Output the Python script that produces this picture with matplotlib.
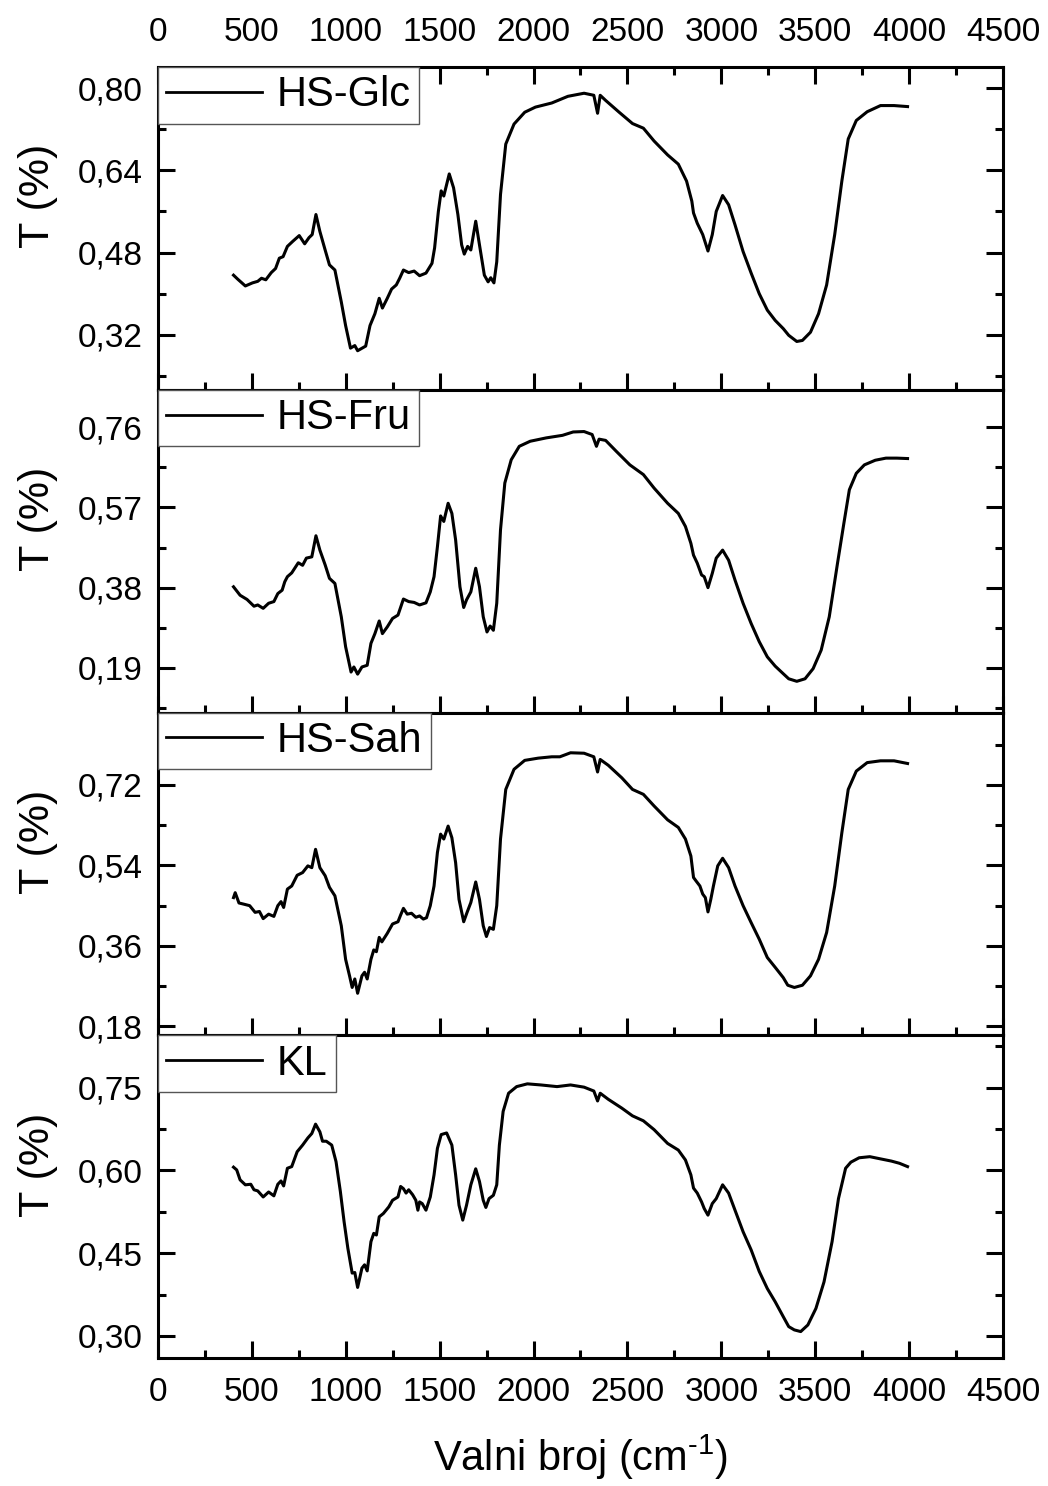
import matplotlib
matplotlib.use('Agg')
import matplotlib.pyplot as plt
from matplotlib.ticker import MultipleLocator, FuncFormatter

plt.rcParams['font.family'] = ['Liberation Sans', 'DejaVu Sans']
plt.rcParams['mathtext.default'] = 'regular'

# wavenumber (cm-1) / transmittance
glc_x = [402, 425, 465, 503, 531, 551, 574, 603, 626, 646, 666, 689, 718, 752, 781, 804, 821, 841,
         862, 890, 913, 942, 976, 999, 1025, 1048, 1063, 1106, 1129, 1155, 1178, 1195, 1221, 1244,
         1269, 1287, 1307, 1335, 1364, 1393, 1427, 1459, 1473, 1493, 1508, 1522, 1551, 1574, 1597,
         1617, 1631, 1649, 1666, 1692, 1712, 1738, 1758, 1772, 1789, 1804, 1824, 1852, 1896, 1953,
         2010, 2097, 2183, 2269, 2321, 2341, 2355, 2384, 2456, 2527, 2585, 2642, 2714, 2771, 2815,
         2843, 2852, 2872, 2901, 2929, 2952, 2973, 3007, 3039, 3073, 3116, 3159, 3202, 3245, 3287,
         3330, 3359, 3402, 3432, 3475, 3518, 3561, 3604, 3642, 3676, 3719, 3777, 3848, 3920, 3992]
glc_y = [0.436, 0.428, 0.415, 0.421, 0.424, 0.430, 0.427, 0.441, 0.449, 0.469, 0.472, 0.492, 0.502,
         0.513, 0.497, 0.509, 0.515, 0.554, 0.521, 0.485, 0.456, 0.446, 0.384, 0.338, 0.294, 0.299,
         0.289, 0.298, 0.338, 0.361, 0.391, 0.372, 0.391, 0.409, 0.417, 0.430, 0.446, 0.441, 0.444,
         0.435, 0.440, 0.459, 0.489, 0.560, 0.600, 0.590, 0.633, 0.606, 0.554, 0.495, 0.477, 0.492,
         0.485, 0.541, 0.495, 0.436, 0.423, 0.431, 0.421, 0.462, 0.593, 0.691, 0.730, 0.753, 0.763,
         0.771, 0.784, 0.790, 0.786, 0.751, 0.786, 0.776, 0.753, 0.731, 0.722, 0.697, 0.670, 0.652,
         0.619, 0.580, 0.557, 0.537, 0.515, 0.483, 0.515, 0.560, 0.591, 0.573, 0.534, 0.482, 0.440,
         0.400, 0.368, 0.348, 0.332, 0.319, 0.307, 0.309, 0.325, 0.361, 0.417, 0.515, 0.619, 0.701,
         0.737, 0.754, 0.766, 0.766, 0.764]

fru_x = [402, 416, 437, 474, 511, 531, 560, 589, 617, 638, 661, 675, 689, 712, 747, 770, 790, 819,
         841, 862, 890, 913, 942, 976, 999, 1028, 1043, 1063, 1086, 1114, 1134, 1155, 1178, 1195,
         1221, 1249, 1278, 1307, 1335, 1364, 1393, 1427, 1450, 1470, 1488, 1505, 1522, 1545, 1565,
         1585, 1608, 1628, 1643, 1666, 1692, 1712, 1732, 1752, 1769, 1786, 1804, 1824, 1847, 1881,
         1924, 1982, 2068, 2154, 2211, 2269, 2312, 2335, 2349, 2384, 2441, 2513, 2585, 2642, 2714,
         2771, 2809, 2838, 2852, 2872, 2895, 2909, 2929, 2952, 2973, 3007, 3039, 3073, 3116, 3159,
         3202, 3245, 3287, 3330, 3359, 3402, 3446, 3489, 3532, 3575, 3619, 3653, 3682, 3719, 3762,
         3820, 3877, 3935, 3992]
fru_y = [0.382, 0.374, 0.362, 0.352, 0.336, 0.339, 0.331, 0.343, 0.347, 0.366, 0.374, 0.394, 0.406,
         0.415, 0.439, 0.433, 0.450, 0.453, 0.503, 0.469, 0.434, 0.402, 0.390, 0.311, 0.240, 0.180,
         0.192, 0.175, 0.192, 0.196, 0.248, 0.271, 0.301, 0.271, 0.287, 0.307, 0.315, 0.353, 0.347,
         0.345, 0.339, 0.344, 0.370, 0.406, 0.477, 0.550, 0.537, 0.580, 0.556, 0.493, 0.382, 0.333,
         0.351, 0.370, 0.426, 0.382, 0.311, 0.275, 0.289, 0.279, 0.343, 0.517, 0.628, 0.683, 0.715,
         0.727, 0.735, 0.741, 0.749, 0.750, 0.743, 0.715, 0.732, 0.729, 0.703, 0.671, 0.648, 0.616,
         0.580, 0.556, 0.525, 0.485, 0.457, 0.438, 0.410, 0.406, 0.380, 0.414, 0.450, 0.469, 0.445,
         0.398, 0.343, 0.295, 0.252, 0.216, 0.194, 0.176, 0.164, 0.158, 0.164, 0.188, 0.232, 0.311,
         0.438, 0.533, 0.612, 0.651, 0.671, 0.682, 0.687, 0.687, 0.686]

sah_x = [402, 411, 431, 460, 488, 517, 540, 560, 589, 617, 638, 655, 669, 689, 712, 741, 770, 798,
         819, 839, 862, 890, 913, 942, 976, 999, 1020, 1034, 1048, 1063, 1086, 1100, 1114, 1134,
         1149, 1163, 1178, 1192, 1221, 1249, 1278, 1292, 1307, 1327, 1350, 1373, 1393, 1413, 1430,
         1450, 1470, 1488, 1505, 1522, 1545, 1565, 1585, 1603, 1628, 1646, 1666, 1692, 1712, 1732,
         1749, 1766, 1786, 1804, 1824, 1852, 1896, 1953, 2025, 2097, 2140, 2197, 2269, 2321, 2341,
         2355, 2398, 2470, 2527, 2585, 2642, 2714, 2771, 2809, 2838, 2852, 2866, 2886, 2901, 2915,
         2929, 2944, 2958, 2981, 3007, 3039, 3073, 3116, 3159, 3202, 3245, 3287, 3330, 3354, 3389,
         3432, 3475, 3518, 3561, 3604, 3642, 3676, 3719, 3777, 3848, 3920, 3992]
sah_y = [0.468, 0.479, 0.456, 0.453, 0.450, 0.435, 0.437, 0.421, 0.431, 0.426, 0.450, 0.459, 0.446,
         0.487, 0.494, 0.518, 0.524, 0.539, 0.535, 0.576, 0.535, 0.517, 0.491, 0.472, 0.405, 0.330,
         0.293, 0.267, 0.286, 0.254, 0.293, 0.301, 0.286, 0.330, 0.351, 0.347, 0.379, 0.369, 0.388,
         0.409, 0.414, 0.429, 0.444, 0.431, 0.433, 0.424, 0.427, 0.420, 0.423, 0.450, 0.494, 0.569,
         0.610, 0.599, 0.628, 0.602, 0.546, 0.464, 0.414, 0.435, 0.457, 0.503, 0.464, 0.405, 0.381,
         0.401, 0.397, 0.450, 0.599, 0.710, 0.755, 0.775, 0.780, 0.783, 0.783, 0.792, 0.791, 0.783,
         0.749, 0.777, 0.764, 0.736, 0.710, 0.699, 0.673, 0.642, 0.625, 0.599, 0.561, 0.513, 0.505,
         0.494, 0.476, 0.468, 0.436, 0.464, 0.494, 0.539, 0.556, 0.535, 0.494, 0.450, 0.412, 0.375,
         0.334, 0.312, 0.289, 0.272, 0.267, 0.272, 0.293, 0.330, 0.390, 0.494, 0.613, 0.710, 0.751,
         0.770, 0.774, 0.774, 0.768]

kl_x = [402, 419, 437, 465, 494, 511, 531, 560, 589, 617, 638, 655, 669, 689, 712, 741, 770, 798,
        819, 839, 862, 876, 896, 925, 948, 971, 991, 1011, 1034, 1048, 1063, 1086, 1100, 1114, 1134,
        1149, 1163, 1178, 1200, 1229, 1249, 1278, 1292, 1307, 1321, 1335, 1356, 1373, 1384, 1393,
        1407, 1427, 1450, 1470, 1488, 1508, 1537, 1565, 1585, 1603, 1623, 1643, 1666, 1692, 1712,
        1732, 1746, 1763, 1786, 1804, 1818, 1838, 1867, 1910, 1967, 2039, 2125, 2197, 2269, 2321,
        2341, 2355, 2398, 2470, 2527, 2585, 2642, 2714, 2771, 2809, 2838, 2852, 2872, 2895, 2909,
        2929, 2952, 2973, 3007, 3039, 3073, 3116, 3159, 3202, 3245, 3287, 3330, 3359, 3389, 3423,
        3461, 3504, 3547, 3590, 3624, 3662, 3690, 3734, 3791, 3848, 3906, 3949, 3992]
kl_y = [0.606, 0.601, 0.583, 0.574, 0.575, 0.565, 0.563, 0.552, 0.561, 0.554, 0.575, 0.581, 0.572,
        0.604, 0.607, 0.634, 0.646, 0.659, 0.667, 0.684, 0.670, 0.653, 0.653, 0.646, 0.616, 0.562,
        0.507, 0.459, 0.414, 0.415, 0.388, 0.423, 0.429, 0.418, 0.471, 0.486, 0.483, 0.516, 0.522,
        0.534, 0.546, 0.552, 0.571, 0.567, 0.559, 0.565, 0.556, 0.546, 0.528, 0.543, 0.540, 0.528,
        0.552, 0.592, 0.640, 0.665, 0.668, 0.646, 0.592, 0.537, 0.510, 0.537, 0.574, 0.603, 0.580,
        0.546, 0.533, 0.549, 0.555, 0.574, 0.646, 0.707, 0.740, 0.752, 0.757, 0.755, 0.752, 0.755,
        0.751, 0.744, 0.726, 0.740, 0.729, 0.713, 0.699, 0.690, 0.674, 0.649, 0.637, 0.619, 0.592,
        0.568, 0.559, 0.543, 0.531, 0.519, 0.540, 0.549, 0.574, 0.559, 0.528, 0.489, 0.456, 0.417,
        0.386, 0.362, 0.335, 0.317, 0.311, 0.308, 0.320, 0.350, 0.398, 0.471, 0.549, 0.604, 0.615,
        0.623, 0.625, 0.621, 0.617, 0.613, 0.607]

names = ['HS-Glc', 'HS-Fru', 'HS-Sah', 'KL']
xs = [glc_x, fru_x, sah_x, kl_x]
ys = [glc_y, fru_y, sah_y, kl_y]
ylims = [(0.213, 0.841), (0.084, 0.849), (0.160, 0.882), (0.260, 0.845)]
ysteps = [0.16, 0.19, 0.18, 0.15]

fig, axes = plt.subplots(4, 1, figsize=(10.48, 14.86), dpi=100, sharex=True)
fig.subplots_adjust(left=0.1508, right=0.957, top=0.9549, bottom=0.0861, hspace=0)

comma = FuncFormatter(lambda v, p: ('%.2f' % v).replace('.', ','))

for i, ax in enumerate(axes):
    ax.plot(xs[i], ys[i], color='black', lw=2.2, label=names[i])
    ax.set_xlim(0, 4500)
    ax.set_ylim(*ylims[i])
    ax.xaxis.set_major_locator(MultipleLocator(500))
    ax.xaxis.set_minor_locator(MultipleLocator(250))
    ax.yaxis.set_major_locator(MultipleLocator(ysteps[i]))
    ax.yaxis.set_minor_locator(MultipleLocator(ysteps[i] / 2))
    ax.yaxis.set_major_formatter(comma)
    for s in ax.spines.values():
        s.set_linewidth(2.2)
    ax.tick_params(which='both', direction='in', width=2.2, labelsize=24,
                   left=True, right=True, bottom=True, top=(i == 0),
                   labelbottom=(i == 3), labeltop=(i == 0))
    ax.tick_params(which='major', length=12)
    ax.tick_params(which='minor', length=6)
    ax.tick_params(axis='y', pad=11)
    ax.tick_params(axis='x', pad=14)
    ax.set_ylabel('T (%)', fontsize=31)
    ax.yaxis.set_label_coords(-0.118, 0.6)
    leg = ax.legend(loc='upper left', fontsize=30, frameon=True, fancybox=False,
                    borderaxespad=0, borderpad=0.2, handlelength=2.3, handletextpad=0.35,
                    framealpha=1)
    leg.get_frame().set_edgecolor('#555555')
    leg.get_frame().set_linewidth(1.0)
    for h in leg.get_lines():
        h.set_linewidth(2.0)

axes[3].set_xlabel('Valni broj (cm$^{\u20101}$)', fontsize=30, labelpad=17)

fig.savefig('out.png', dpi=100)
